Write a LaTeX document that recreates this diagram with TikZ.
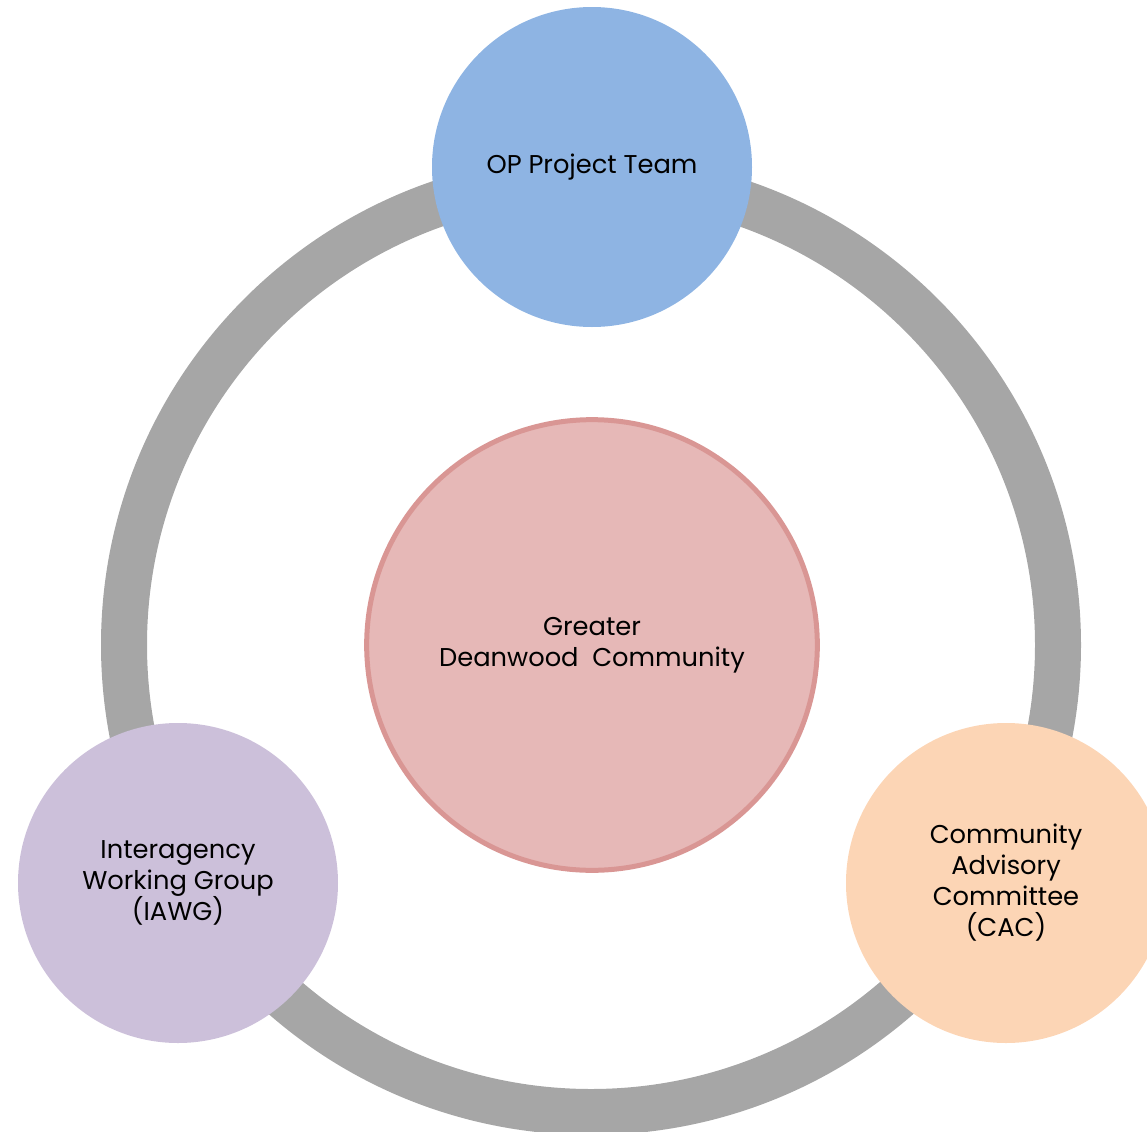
\documentclass[tikz,border=0pt]{standalone}
\usepackage{fontspec}
\setmainfont{Poppins}
\usetikzlibrary{positioning}
\definecolor{ringgray}{HTML}{A6A6A6}
\definecolor{teamblue}{HTML}{8EB4E3}
\definecolor{communityrose}{HTML}{E6B8B7}
\definecolor{communityedge}{HTML}{D99694}
\definecolor{iawglilac}{HTML}{CCC0DA}
\definecolor{cacpeach}{HTML}{FCD5B5}

\begin{document}
\begin{tikzpicture}[x=0.75pt, y=-0.75pt,
        group/.style={circle, minimum size=240pt, inner sep=0pt, align=center,
                      font=\fontsize{19.3}{23.25}\selectfont}]
        \useasboundingbox (0,0) rectangle (1147,1132);

        \node[circle, draw=ringgray, line width=34.5pt, minimum size=700.5pt] (engagement_ring) at (591,645) {};

        \node[group, fill=teamblue]  (op_team)   at (592,167)  {OP Project Team};
        \node[group, fill=iawglilac] (iawg)      at (178,883)  {Interagency\\Working Group\\(IAWG)};
        \node[group, fill=cacpeach]  (cac)       at (1006,883) {Community\\Advisory\\Committee\\(CAC)};
        \node[group, fill=communityrose, draw=communityedge, line width=3.75pt, minimum size=338pt]
                                     (community) at (592,645)  {Greater\\Deanwood\ \ Community};
    \end{tikzpicture}
\end{document}
